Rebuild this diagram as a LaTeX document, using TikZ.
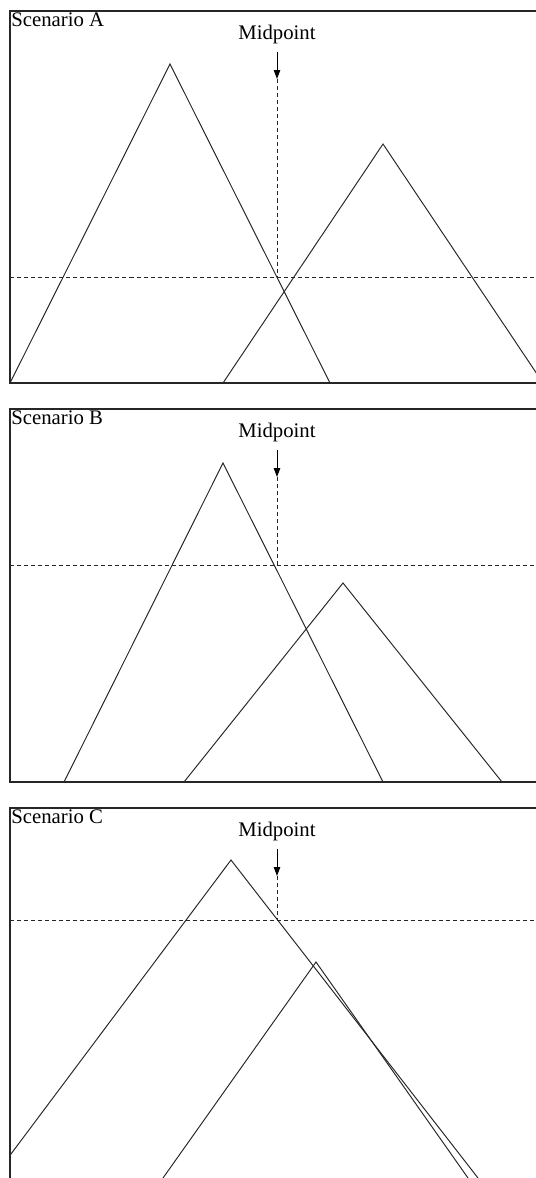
\documentclass[tikz,border=0pt]{standalone}
\usepackage{fontspec}
\setmainfont{Liberation Serif}
\usetikzlibrary{arrows.meta}

\begin{document}
\begin{tikzpicture}[
    x=0.02cm, y=-0.02cm,
    font=\fontsize{11.8}{14}\selectfont,
    frame/.style={draw=black!85, line width=0.6pt},
    curve/.style={draw=black!85, line width=0.55pt},
    thresh/.style={draw=black!85, line width=0.55pt, dash pattern=on 2.3pt off 1.7pt},
    arrow/.style={-{Triangle[length=5pt, width=3.6pt]}, draw=black, line width=0.55pt},
    title/.style={anchor=base west, inner sep=0pt},
    mid/.style={anchor=base, inner sep=0pt}
  ]
  \useasboundingbox (0,0) rectangle (536,1178);

  % Scenario A
  \draw[frame] (536,11) -- (10,11) -- (10,383) -- (536,383);
  \node[title] (labelA) at (11,26) {Scenario A};
  \begin{scope}
    \clip (10,11) rectangle (536,383);
    \draw[curve] (10,383) -- (170,64) -- (330,383);
    \draw[curve] (223,383) -- (383,144) -- (543,383);
  \end{scope}
  \coordinate (leftA) at (10,277);
  \coordinate (rightA) at (536,277);
  \draw[thresh] (leftA) -- (rightA);
  \node[mid] (midA) at (277,39) {Midpoint};
  \coordinate (tipA) at (277,79);
  \coordinate (cutA) at (277,277);
  \draw[arrow] ([yshift=-0.17cm]midA.south) -- (tipA);
  \draw[thresh] (tipA) -- (cutA);

  % Scenario B
  \draw[frame] (536,409) -- (10,409) -- (10,782) -- (536,782);
  \node[title] (labelB) at (11,424) {Scenario B};
  \begin{scope}
    \clip (10,409) rectangle (536,782);
    \draw[curve] (64,782) -- (223,463) -- (383,782);
    \draw[curve] (184,782) -- (343,583) -- (502,782);
  \end{scope}
  \coordinate (leftB) at (10,565);
  \coordinate (rightB) at (536,565);
  \draw[thresh] (leftB) -- (rightB);
  \node[mid] (midB) at (277,437) {Midpoint};
  \coordinate (tipB) at (277,477);
  \coordinate (cutB) at (277,565);
  \draw[arrow] ([yshift=-0.17cm]midB.south) -- (tipB);
  \draw[thresh] (tipB) -- (cutB);

  % Scenario C
  \draw[frame] (536,808) -- (10,808) -- (10,1178);
  \node[title] (labelC) at (11,823) {Scenario C};
  \begin{scope}
    \clip (10,808) rectangle (536,1178);
    \draw[curve] (-7,1178) -- (231,860) -- (478,1178);
    \draw[curve] (163,1178) -- (316,962) -- (468,1178);
  \end{scope}
  \coordinate (leftC) at (10,920);
  \coordinate (rightC) at (536,920);
  \draw[thresh] (leftC) -- (rightC);
  \node[mid] (midC) at (277,836) {Midpoint};
  \coordinate (tipC) at (277,876);
  \coordinate (cutC) at (277,920);
  \draw[arrow] ([yshift=-0.17cm]midC.south) -- (tipC);
  \draw[thresh] (tipC) -- (cutC);
\end{tikzpicture}
\end{document}
